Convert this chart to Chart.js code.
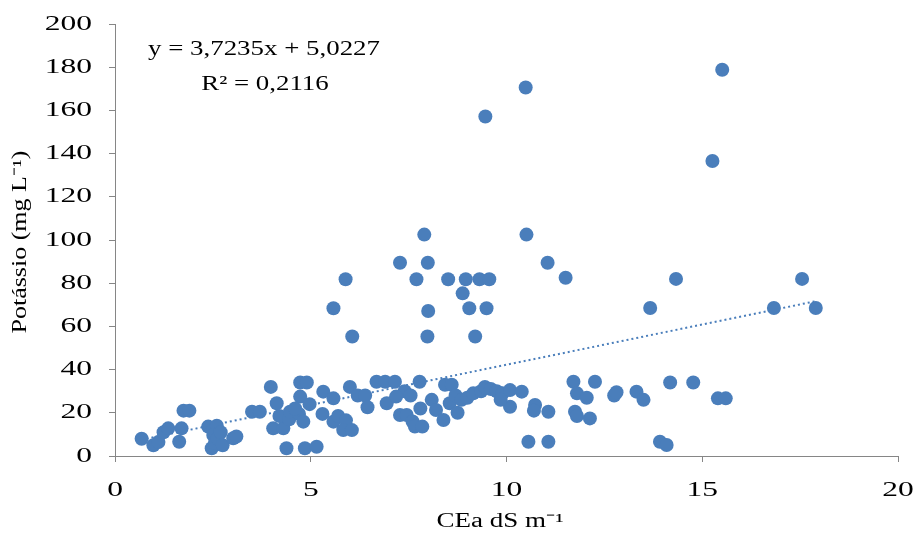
<!DOCTYPE html>
<html>
<head>
<meta charset="utf-8">
<script src="https://cdn.jsdelivr.net/npm/chart.js@4.4.1/dist/chart.umd.min.js"></script>
<style>
    html, body { margin: 0; padding: 0; background: #fff; }
    #wrap { width: 915px; height: 539px; }
</style>
</head>
<body>
<div id="wrap"><canvas id="chart" width="915" height="539"></canvas></div>
<script>
// CEa (dS m-1) vs Potássio (mg L-1)
const ceaValues = [
    0.68, 0.98, 1.11, 1.24, 1.36, 1.64, 1.70, 1.75, 1.90,
    2.38, 2.50, 2.60, 2.51, 2.47, 2.55, 2.62, 2.70, 2.75, 3.02, 3.10,
    3.50, 3.70, 3.98, 4.04, 4.30, 4.13, 4.20, 4.45, 4.47, 4.38, 4.70, 4.73, 4.73, 4.90,
    4.81, 4.97, 4.85, 5.15, 4.60, 5.32, 5.58, 5.30, 5.58, 5.70, 5.90, 5.83, 6.05,
    6.00, 6.20, 6.39, 6.45, 6.68, 6.90, 7.15, 7.40, 6.94, 7.18, 7.55, 7.28, 7.45,
    7.60, 7.80, 7.66, 7.85, 7.78, 8.09, 8.20, 8.39, 8.43, 8.60, 8.55, 8.70, 8.85,
    9.00, 9.15, 9.35, 8.75, 9.45, 9.60, 9.75, 9.90, 10.09, 10.09, 9.85, 10.39,
    10.56, 11.07, 10.73, 10.70, 11.07, 11.71, 12.26, 11.80, 12.05, 11.75, 11.80, 12.13,
    12.75, 12.81, 13.32, 13.50, 14.18, 14.77, 13.92, 14.09, 15.40, 15.60,
    5.58, 5.89, 6.06, 7.28, 7.70, 7.90, 7.99, 8.00, 7.98, 8.51, 8.88, 8.96, 9.05,
    9.20, 9.31, 9.49, 9.56, 10.51, 11.05, 11.51, 9.46, 10.49, 15.26, 15.51,
    14.33, 13.67, 16.83, 17.55, 17.90
];
const potassioValues = [
    8, 5, 6.5, 11, 12.8, 6.6, 12.8, 21, 21,
    13.6, 12, 14, 9.7, 3.6, 6, 8, 11, 5, 8.2, 9,
    20.5, 20.5, 32, 12.8, 12.8, 24.4, 18.5, 17, 20.5, 3.6, 19.5, 27.5, 34, 34,
    15.9, 24, 3.6, 4.3, 22, 29.8, 26.7, 19.5, 15.9, 18.5, 16.5, 12, 12,
    32, 28, 28, 22.6, 34.4, 34.4, 34.4, 30, 24.4, 27.5, 28, 19, 19,
    16, 22, 13.6, 13.6, 34.4, 26, 21.3, 16.7, 33, 33, 24.4, 28, 26,
    27, 29, 30, 20, 32, 31, 30, 29, 30.5, 22.8, 26, 29.8,
    6.6, 6.6, 23.6, 21, 20.5, 34.4, 34.4, 29, 27, 20.5, 18.5, 17.4,
    28, 29.5, 29.8, 26, 34, 34, 6.6, 5.1, 26.7, 26.7,
    68.4, 81.8, 55.3, 89.5, 81.8, 102.5, 89.5, 67.1, 55.3, 81.8, 75.3, 81.8, 68.4,
    55.3, 81.8, 68.4, 81.8, 102.5, 89.5, 82.5, 157.2, 170.6, 136.6, 178.8,
    82, 68.5, 68.5, 82, 68.5
];

// linear trend shown in the chart
const trendSlope = 3.7235;
const trendIntercept = 5.0227;
const trendRange = [0.68, 17.9];

const xTicks = [0, 5, 10, 15, 20];
const yTicks = [0, 20, 40, 60, 80, 100, 120, 140, 160, 180, 200];
const equationLines = ['y = 3,7235x + 5,0227', 'R\u00B2 = 0,2116'];
const xTitle = 'CEa dS m\u207B\u00B9';
const yTitle = 'Potássio (mg L\u207B\u00B9)';

const pointData = ceaValues.map(function(x, i) { return { x: x, y: potassioValues[i] }; });
const trendData = trendRange.map(function(x) { return { x: x, y: trendSlope * x + trendIntercept }; });

const serif = "'Liberation Serif', 'Times New Roman', serif";
const axisGray = '#868686';
const blue = '#4a7ebb';

// the reference text is wide (stretched), so labels are drawn here with a horizontal scale
function stretchText(c, text, x, y, align, sx, size) {
    c.save();
    c.translate(x, y);
    c.scale(sx, 1);
    c.font = size + 'px ' + serif;
    c.textAlign = align;
    c.textBaseline = 'middle';
    c.fillText(text, 0, 0);
    c.restore();
}

const labelsPlugin = {
    id: 'labels',
    afterDraw: function(chart) {
        var c = chart.ctx, xs = chart.scales.x, ys = chart.scales.y;
        c.save();
        c.fillStyle = '#000';
        yTicks.forEach(function(v) {
            stretchText(c, String(v), xs.left - 23, ys.getPixelForValue(v), 'right', 1.5, 21);
        });
        xTicks.forEach(function(v) {
            stretchText(c, String(v), xs.getPixelForValue(v), ys.bottom + 34, 'center', 1.5, 21);
        });
        stretchText(c, xTitle, 500, 522, 'center', 1.35, 20);
        // rotated y title
        c.save();
        c.translate(21, 242);
        c.rotate(-Math.PI / 2);
        stretchText(c, yTitle, 0, 0, 'center', 1.3, 20);
        c.restore();
        stretchText(c, equationLines[0], 264, 49, 'center', 1.28, 21);
        stretchText(c, equationLines[1], 265, 84, 'center', 1.28, 21);
        c.restore();
    }
};

new Chart(document.getElementById('chart'), {
    type: 'scatter',
    data: {
        datasets: [
            { label: 'Potássio', data: pointData, backgroundColor: blue, borderWidth: 0, pointRadius: 7, pointHoverRadius: 7 },
            { label: 'Linear', type: 'line', data: trendData, borderColor: blue, borderWidth: 2, borderDash: [2, 3], pointRadius: 0, fill: false, tension: 0 }
        ]
    },
    options: {
        responsive: false,
        animation: false,
        layout: { padding: { left: 0, right: 17, top: 24, bottom: 0 } },
        plugins: { legend: { display: false }, tooltip: { enabled: false } },
        scales: {
            x: {
                type: 'linear', min: 0, max: 20,
                afterBuildTicks: function(s) { s.ticks = xTicks.map(function(v) { return { value: v }; }); },
                afterFit: function(s) { s.height = 83; },
                grid: { drawOnChartArea: false, drawTicks: true, tickLength: 6, color: axisGray },
                border: { display: true, color: axisGray, width: 1 },
                ticks: { display: false }
            },
            y: {
                type: 'linear', min: 0, max: 200,
                afterBuildTicks: function(s) { s.ticks = yTicks.map(function(v) { return { value: v }; }); },
                afterFit: function(s) { s.width = 115; },
                grid: { drawOnChartArea: false, drawTicks: true, tickLength: 6, color: axisGray },
                border: { display: true, color: axisGray, width: 1 },
                ticks: { display: false }
            }
        }
    },
    plugins: [labelsPlugin]
});
</script>
</body>
</html>
